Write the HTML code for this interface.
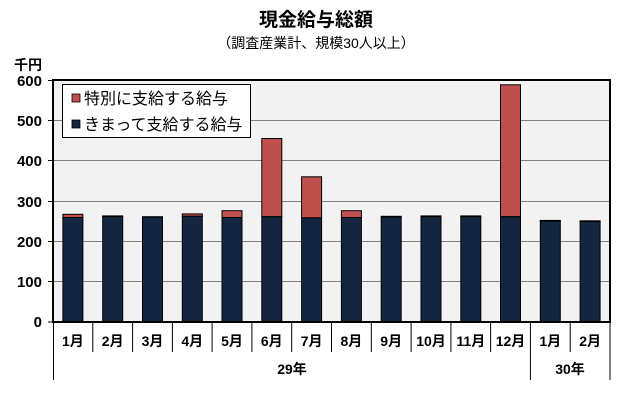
<!DOCTYPE html>
<html><head><meta charset="utf-8"><style>
body{margin:0;background:#fff;}
svg{display:block;font-family:"Liberation Sans","Noto Sans CJK JP",sans-serif;}
</style></head><body>
<svg width="632" height="406" xmlns="http://www.w3.org/2000/svg">
<text x="316" y="26" text-anchor="middle" font-size="19" font-weight="bold">現金給与総額</text>
<text x="316" y="48" text-anchor="middle" font-size="14">（調査産業計、規模30人以上）</text>
<text x="14" y="70" font-size="14" font-weight="bold">千円</text>
<rect x="53" y="80" width="557" height="242" fill="#f2f2f2"/>
<g stroke="#808080" stroke-width="1">
<line x1="53" x2="610" y1="120.5" y2="120.5"/>
<line x1="53" x2="610" y1="160.5" y2="160.5"/>
<line x1="53" x2="610" y1="201.5" y2="201.5"/>
<line x1="53" x2="610" y1="241.5" y2="241.5"/>
<line x1="53" x2="610" y1="281.5" y2="281.5"/>
</g>
<g font-size="15" font-weight="bold" text-anchor="end">
<text x="42" y="86">600</text><text x="42" y="126">500</text><text x="42" y="166">400</text>
<text x="42" y="207">300</text><text x="42" y="247">200</text><text x="42" y="287">100</text><text x="42" y="327">0</text>
</g>
<g stroke="#000" stroke-width="1">
<line x1="48" x2="53" y1="80.5" y2="80.5"/><line x1="48" x2="53" y1="120.5" y2="120.5"/>
<line x1="48" x2="53" y1="160.5" y2="160.5"/><line x1="48" x2="53" y1="201.5" y2="201.5"/>
<line x1="48" x2="53" y1="241.5" y2="241.5"/><line x1="48" x2="53" y1="281.5" y2="281.5"/>
<line x1="48" x2="53" y1="322" y2="322"/>
</g>
<g stroke="#000" stroke-width="1">
<rect x="62.9" y="214.3" width="20" height="3.2" fill="#c0504d"/><rect x="62.9" y="217.5" width="20" height="104.5" fill="#14263f"/>
<rect x="102.7" y="215.9" width="20" height="0.8" fill="#c0504d"/><rect x="102.7" y="216.7" width="20" height="105.3" fill="#14263f"/>
<rect x="142.5" y="216.7" width="20" height="0.4" fill="#c0504d"/><rect x="142.5" y="217.1" width="20" height="104.9" fill="#14263f"/>
<rect x="182.3" y="213.9" width="20" height="2.4" fill="#c0504d"/><rect x="182.3" y="216.3" width="20" height="105.7" fill="#14263f"/>
<rect x="222.0" y="210.7" width="20" height="6.8" fill="#c0504d"/><rect x="222.0" y="217.5" width="20" height="104.5" fill="#14263f"/>
<rect x="261.8" y="138.5" width="20" height="78.2" fill="#c0504d"/><rect x="261.8" y="216.7" width="20" height="105.3" fill="#14263f"/>
<rect x="301.6" y="176.8" width="20" height="41.1" fill="#c0504d"/><rect x="301.6" y="217.9" width="20" height="104.1" fill="#14263f"/>
<rect x="341.4" y="210.7" width="20" height="6.8" fill="#c0504d"/><rect x="341.4" y="217.5" width="20" height="104.5" fill="#14263f"/>
<rect x="381.2" y="216.3" width="20" height="0.8" fill="#c0504d"/><rect x="381.2" y="217.1" width="20" height="104.9" fill="#14263f"/>
<rect x="421.0" y="215.9" width="20" height="0.8" fill="#c0504d"/><rect x="421.0" y="216.7" width="20" height="105.3" fill="#14263f"/>
<rect x="460.8" y="215.9" width="20" height="0.8" fill="#c0504d"/><rect x="460.8" y="216.7" width="20" height="105.3" fill="#14263f"/>
<rect x="500.5" y="84.8" width="20" height="131.9" fill="#c0504d"/><rect x="500.5" y="216.7" width="20" height="105.3" fill="#14263f"/>
<rect x="540.3" y="220.4" width="20" height="0.8" fill="#c0504d"/><rect x="540.3" y="221.2" width="20" height="100.8" fill="#14263f"/>
<rect x="580.1" y="220.8" width="20" height="0.8" fill="#c0504d"/><rect x="580.1" y="221.6" width="20" height="100.4" fill="#14263f"/>
</g>
<rect x="53" y="80" width="557" height="242" fill="none" stroke="#000" stroke-width="2"/>
<g font-size="14" font-weight="bold" text-anchor="middle">
<text x="72.9" y="346">1月</text><text x="112.7" y="346">2月</text><text x="152.5" y="346">3月</text>
<text x="192.3" y="346">4月</text><text x="232.0" y="346">5月</text><text x="271.8" y="346">6月</text>
<text x="311.6" y="346">7月</text><text x="351.4" y="346">8月</text><text x="391.2" y="346">9月</text>
<text x="431.0" y="346">10月</text><text x="470.8" y="346">11月</text><text x="510.5" y="346">12月</text>
<text x="550.3" y="346">1月</text><text x="590.1" y="346">2月</text>
</g>
<g stroke="#000" stroke-width="1">
<line x1="92.8" x2="92.8" y1="322" y2="352"/><line x1="132.6" x2="132.6" y1="322" y2="352"/>
<line x1="172.4" x2="172.4" y1="322" y2="352"/><line x1="212.1" x2="212.1" y1="322" y2="352"/>
<line x1="251.9" x2="251.9" y1="322" y2="352"/><line x1="291.7" x2="291.7" y1="322" y2="352"/>
<line x1="331.5" x2="331.5" y1="322" y2="352"/><line x1="371.3" x2="371.3" y1="322" y2="352"/>
<line x1="411.1" x2="411.1" y1="322" y2="352"/><line x1="450.9" x2="450.9" y1="322" y2="352"/>
<line x1="490.6" x2="490.6" y1="322" y2="352"/><line x1="570.2" x2="570.2" y1="322" y2="352"/>
<line x1="53.5" x2="53.5" y1="322" y2="380"/>
<line x1="610" x2="610" y1="322" y2="380"/>
<line x1="530.4" x2="530.4" y1="322" y2="380"/>
</g>
<text x="292" y="374" font-size="14" font-weight="bold" text-anchor="middle">29年</text>
<text x="570" y="374" font-size="14" font-weight="bold" text-anchor="middle">30年</text>
<rect x="62.5" y="84.5" width="188" height="53" fill="#fff" stroke="#000"/>
<rect x="72" y="94" width="8" height="8" fill="#c0504d" stroke="#000" stroke-width="0.8"/>
<text x="84" y="104" font-size="16">特別に支給する給与</text>
<rect x="72" y="120" width="8" height="8" fill="#14263f" stroke="#000" stroke-width="0.8"/>
<text x="84" y="130" font-size="16">きまって支給する給与</text>
</svg>
</body></html>
